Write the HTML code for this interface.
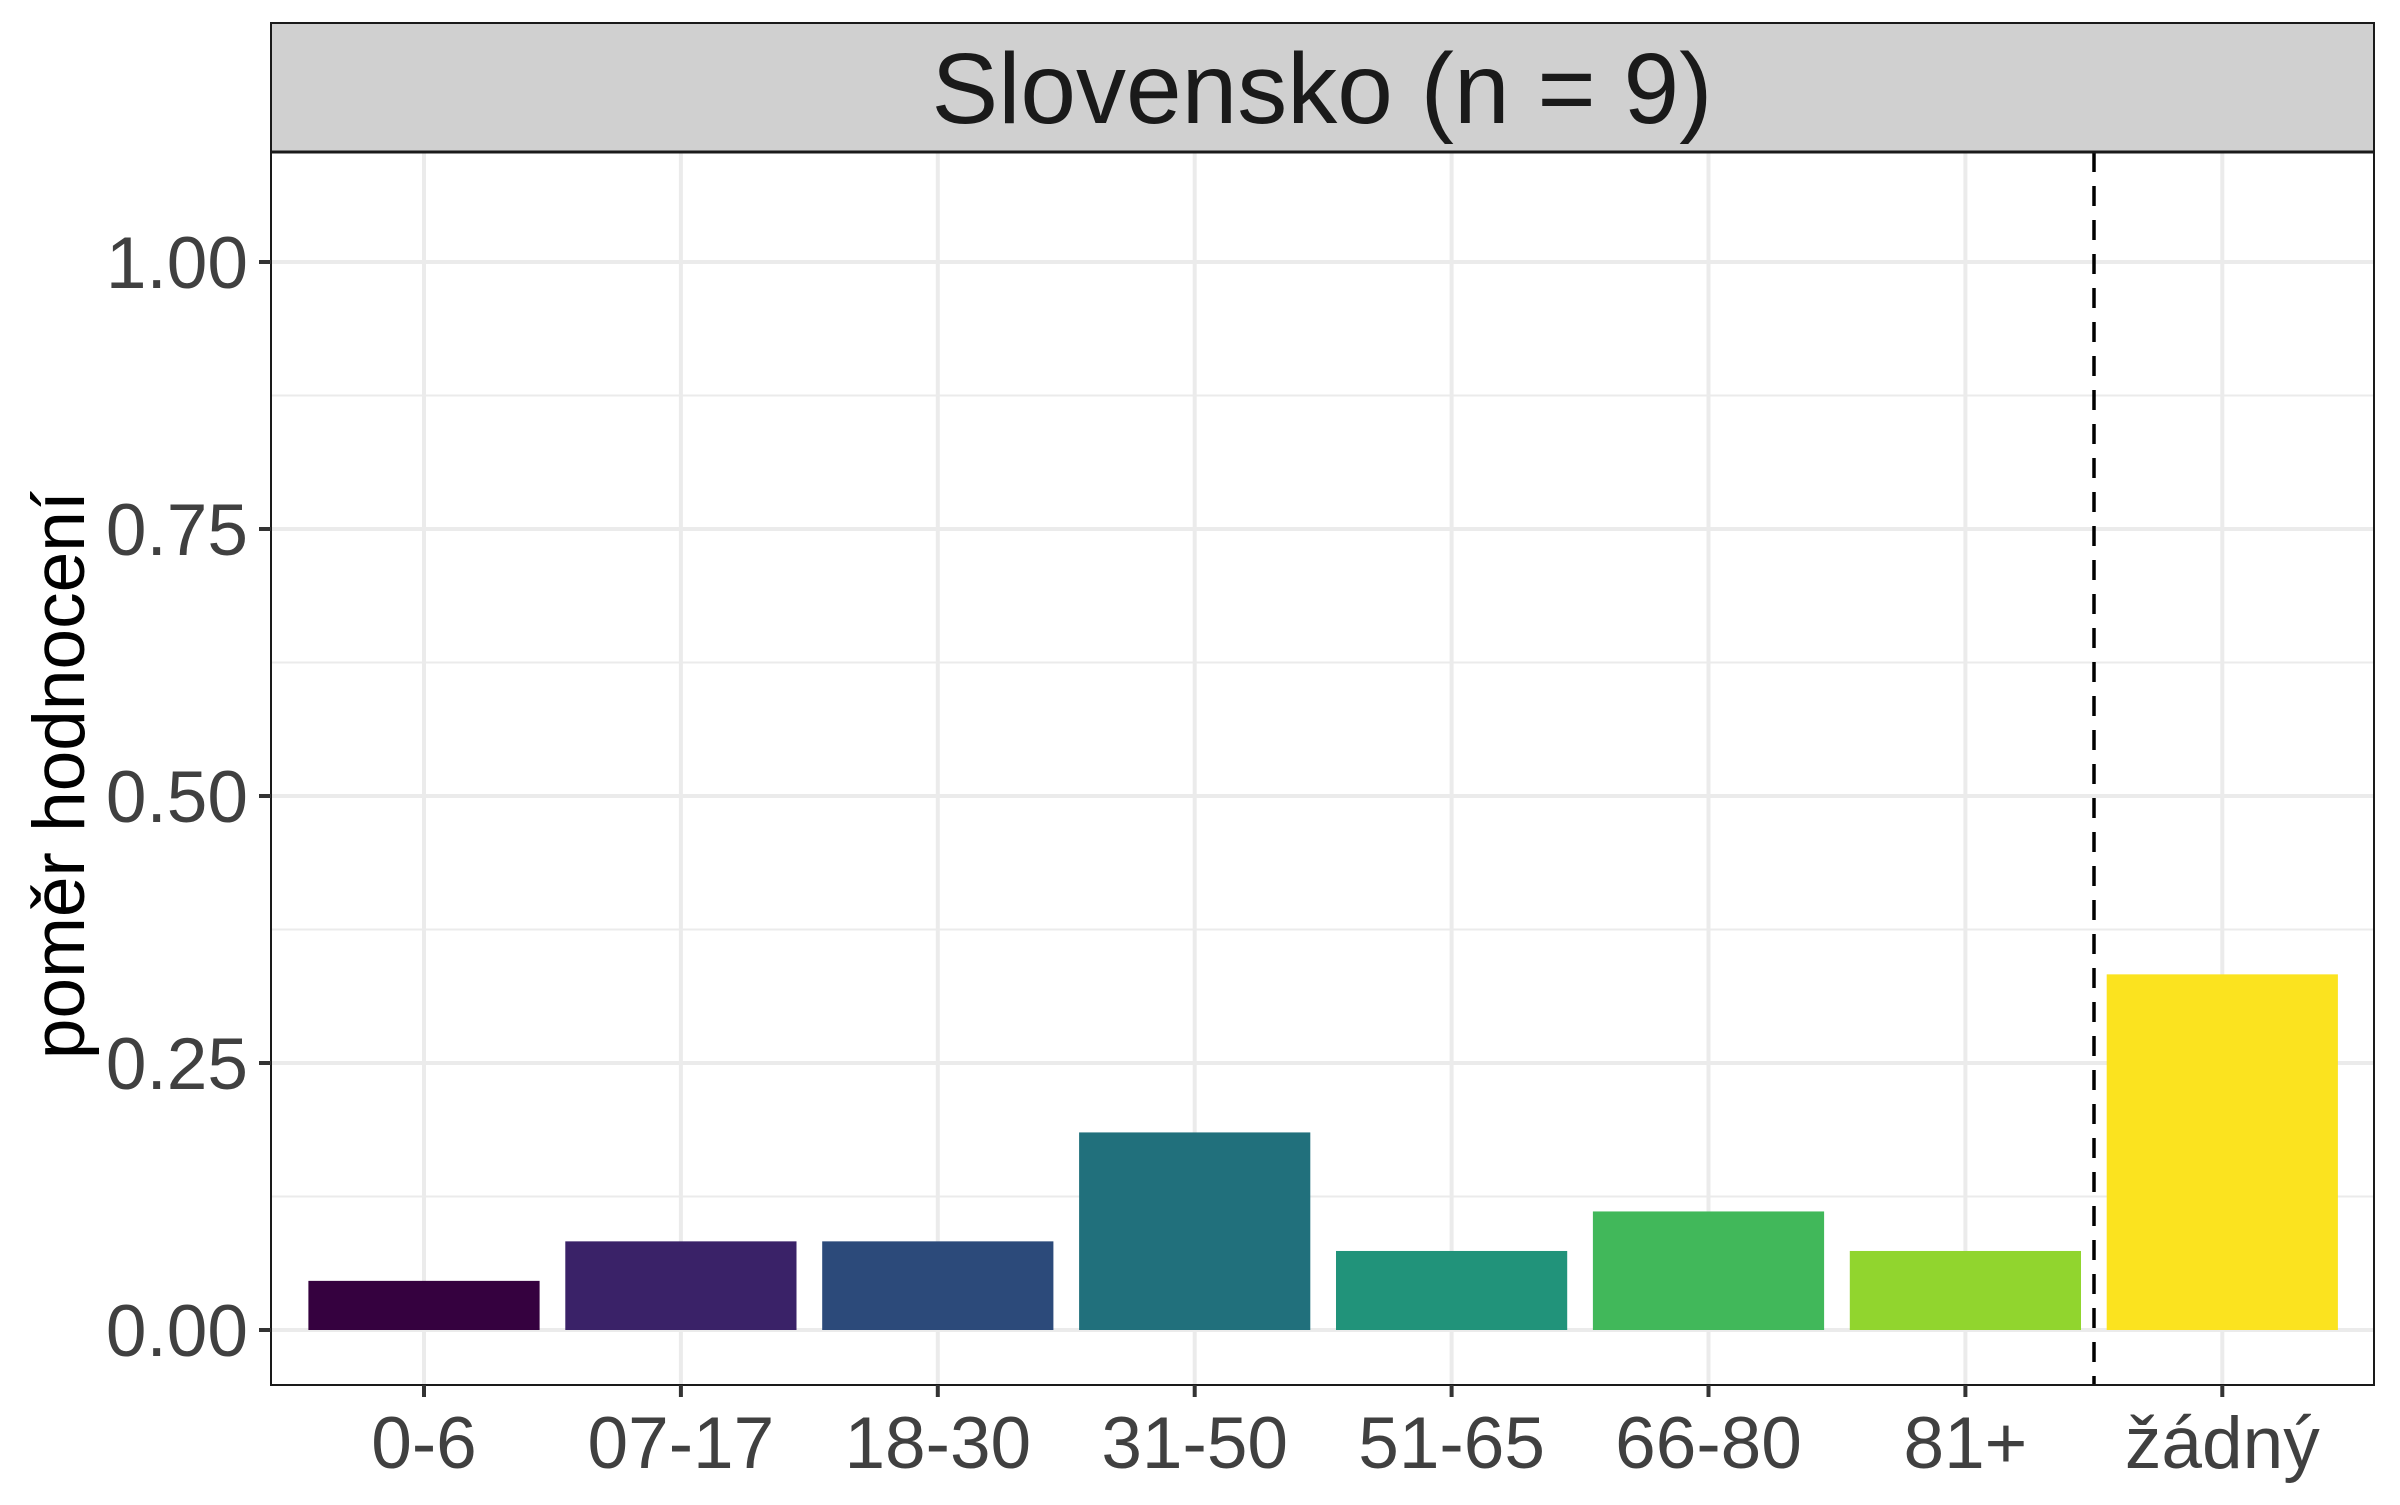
<!DOCTYPE html>
<html><head><meta charset="utf-8"><style>
html,body{margin:0;padding:0;background:#fff;}
svg text{font-family:"Liberation Sans",Arial,sans-serif;}
</style></head><body>
<svg id="chart" width="2400" height="1500" viewBox="0 0 2400 1500" xmlns="http://www.w3.org/2000/svg">
<rect x="0" y="0" width="2400" height="1500" fill="#fff"/>
<rect x="271" y="23" width="2103" height="129" fill="#d0d0d0" stroke="#1a1a1a" stroke-width="2"/>
<text x="1322" y="123" font-size="100" fill="#1a1a1a" text-anchor="middle">Slovensko (n = 9)</text>
<g id="grid"></g>
<g id="bars"></g>
<line x1="2094" y1="152" x2="2094" y2="1385" stroke="#000" stroke-width="3.5" stroke-dasharray="20,14"/>
<rect x="271" y="152" width="2103" height="1233" fill="none" stroke="#1a1a1a" stroke-width="2"/>
<line x1="271" y1="152" x2="2374" y2="152" stroke="#1a1a1a" stroke-width="3"/>
<g id="yaxis"></g>
<g id="xaxis"></g>
<text transform="translate(84,775) rotate(-90)" font-size="73" fill="#000" text-anchor="middle">poměr hodnocení</text>
</svg>
<script>
const categories = ["0-6","07-17","18-30","31-50","51-65","66-80","81+","žádný"];
const values = [0.046,0.083,0.083,0.185,0.074,0.111,0.074,0.333];
const colors = ["#35013f","#3a2268","#2c4a7a","#21707c","#21937a","#41b85a","#91d52e","#fbe31f"];
const yTicks = [0,0.25,0.5,0.75,1.0];
const yTickLabels = ["0.00","0.25","0.50","0.75","1.00"];
const NS="http://www.w3.org/2000/svg";
const y0px=1330, y1px=262;
function yScale(v){return y0px-(y0px-y1px)*v;}
const xStart=424, xStep=256.9;
function xScale(i){return xStart+xStep*i;}
const bw=xStep*0.9;
function mk(tag,attrs,parent){const e=document.createElementNS(NS,tag);for(const k in attrs)e.setAttribute(k,attrs[k]);parent.appendChild(e);return e;}
const grid=document.getElementById('grid'),bars=document.getElementById('bars'),ya=document.getElementById('yaxis'),xa=document.getElementById('xaxis');
for(let i=0;i<yTicks.length-1;i++){
  const v=(yTicks[i]+yTicks[i+1])/2;
  const l=mk('line',{x1:271,x2:2374,y1:yScale(v),y2:yScale(v),stroke:'#ebebeb','stroke-width':2},grid);
  
  
}
yTicks.forEach((v,i)=>{
  const l=mk('line',{x1:271,x2:2374,y1:yScale(v),y2:yScale(v),stroke:'#ebebeb','stroke-width':4},grid);
  
  
  const t=mk('line',{x1:259,x2:271,y1:yScale(v),y2:yScale(v),stroke:'#333','stroke-width':4},ya);
  
  
  const tx=mk('text',{x:248,y:yScale(v)+26,'font-size':73,fill:'#404040','text-anchor':'end'},ya);
  tx.textContent=yTickLabels[i];
  
  
});
categories.forEach((c,i)=>{
  const x=xScale(i);
  const g=mk('line',{x1:x,x2:x,y1:152,y2:1385,stroke:'#ebebeb','stroke-width':4},grid);
  
  
  const r=mk('rect',{x:x-bw/2,y:yScale(values[i]),width:bw,height:yScale(0)-yScale(values[i]),fill:colors[i]},bars);
  
  
  const t=mk('line',{x1:x,x2:x,y1:1385,y2:1397,stroke:'#333','stroke-width':4},xa);
  
  
  const tx=mk('text',{x:x,y:1468,'font-size':73,fill:'#404040','text-anchor':'middle'},xa);
  tx.textContent=c;
  
  
});
</script>
</body></html>
